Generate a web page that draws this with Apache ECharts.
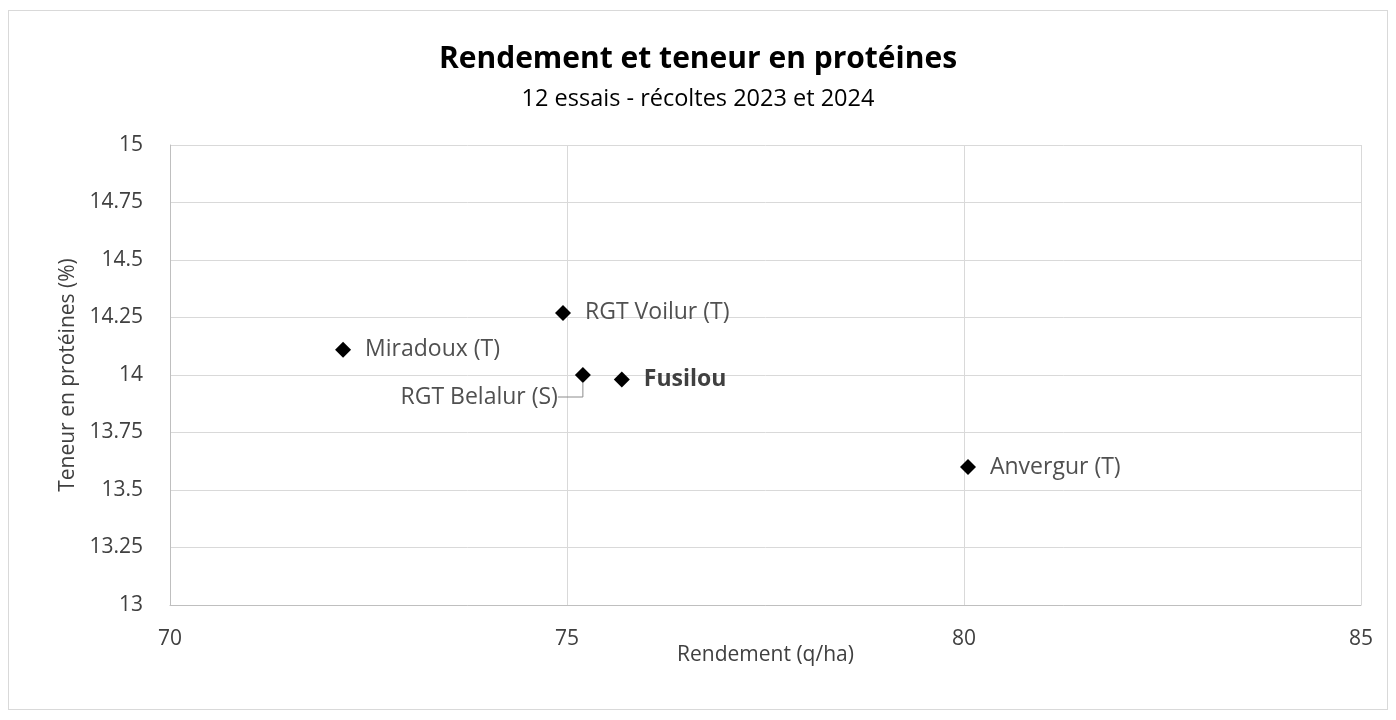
<!DOCTYPE html>
<html>
<head>
<meta charset="utf-8">
<script src="https://cdn.jsdelivr.net/npm/echarts@6/dist/echarts.min.js"></script>
<style>
html,body{margin:0;padding:0;background:#fff;}
#frame{position:absolute;left:8px;top:10px;width:1380px;height:700px;border:1px solid #d9d9d9;box-sizing:border-box;}
#chart{position:absolute;left:0;top:0;width:1396px;height:720px;}
</style>
</head>
<body>
<div id="frame"></div>
<div id="chart"></div>
<script>
const varieties = ["Miradoux (T)", "RGT Voilur (T)", "RGT Belalur (S)", "Fusilou", "Anvergur (T)"];
const yields = [72.18, 74.95, 75.20, 75.69, 80.05];
const proteins = [14.11, 14.27, 14.00, 13.98, 13.60];
const xTicks = [70, 75, 80, 85];
const yTicks = [13, 13.25, 13.5, 13.75, 14, 14.25, 14.5, 14.75, 15];

const FONT = '"Open Sans", "Noto Sans", sans-serif';
const chart = echarts.init(document.getElementById('chart'));

const data = varieties.map((n, i) => {
  const item = { name: n, value: [yields[i], proteins[i]] };
  if (n === "Fusilou") {
    item.label = { fontWeight: 'bold', color: '#404040' };
  }
  if (n === "RGT Belalur (S)") {
    item.label = { position: 'left', distance: 6, padding: [0, 11, 0, 0] };
    item.labelLine = { show: true, length2: 25, minTurnAngle: 0, lineStyle: { color: '#8c8c8c', width: 1 } };
  }
  return item;
});

chart.setOption({
  animation: false,
  title: {
    text: 'Rendement et teneur en protéines',
    subtext: '12 essais - récoltes 2023 et 2024',
    left: 'center',
    top: 39,
    itemGap: 13,
    textStyle: { fontFamily: FONT, fontSize: 30, fontWeight: 'bold', color: '#000' },
    subtextStyle: { fontFamily: FONT, fontSize: 23.5, color: '#000' }
  },
  grid: { left: 170, right: 35, top: 145, bottom: 115 },
  xAxis: {
    type: 'value', min: 70, max: 85, interval: 5,
    name: 'Rendement (q/ha)', nameLocation: 'middle', nameGap: 40, nameMoveOverlap: false,
    nameTextStyle: { fontFamily: FONT, fontSize: 21, color: '#404040' },
    axisLine: { show: true, lineStyle: { color: '#bfbfbf' } },
    axisTick: { show: false },
    axisLabel: { fontFamily: FONT, fontSize: 21, color: '#404040', margin: 24,
      formatter: v => xTicks.includes(v) ? String(v) : '' },
    splitLine: { show: true, lineStyle: { color: '#d9d9d9' } }
  },
  yAxis: {
    type: 'value', min: 13, max: 15, interval: 0.25,
    name: 'Teneur en protéines (%)', nameLocation: 'middle', nameGap: 88,
    nameTextStyle: { fontFamily: FONT, fontSize: 21, color: '#404040' },
    axisLine: { show: true, lineStyle: { color: '#bfbfbf' } },
    axisTick: { show: false },
    axisLabel: { fontFamily: FONT, fontSize: 21, color: '#404040', margin: 27,
      formatter: v => { const t = yTicks.find(k => Math.abs(k - v) < 1e-9); return t === undefined ? '' : String(t); } },
    splitLine: { show: true, lineStyle: { color: '#d9d9d9' } }
  },
  series: [{
    type: 'scatter',
    symbol: 'diamond',
    symbolSize: 16,
    itemStyle: { color: '#000', opacity: 1 },
    data: data,
    label: {
      show: true,
      position: 'right',
      distance: 14,
      formatter: p => p.name,
      fontFamily: FONT, fontSize: 23, color: '#505050'
    },
    labelLayout: function (params) {
      if (params.dataIndex === 2) {
        return { dy: 22 };
      }
      return {};
    }
  }]
});
</script>
</body>
</html>
